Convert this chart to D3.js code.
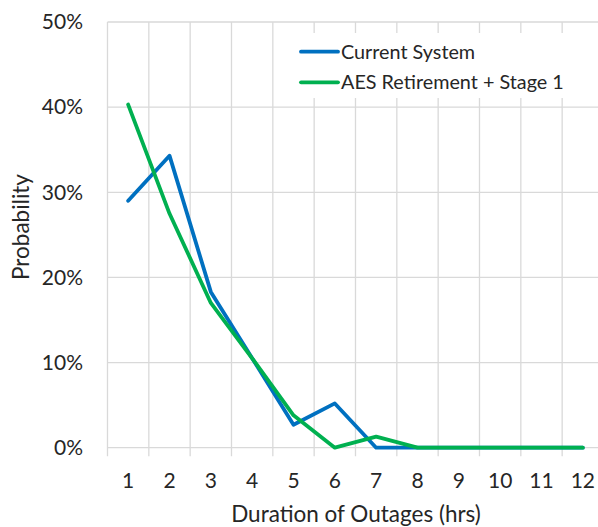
<!DOCTYPE html>
<html><head><meta charset="utf-8">
<script src="https://cdn.jsdelivr.net/npm/d3@7"></script>
<style>
html,body{margin:0;padding:0;background:#fff;}
text{font-family:Lato, "Liberation Sans", sans-serif;fill:#262626;}
</style></head>
<body><svg id="c" width="598" height="527"></svg>
<script>
const categories = [1,2,3,4,5,6,7,8,9,10,11,12];
const currentSystem = [0.290,0.343,0.183,0.105,0.027,0.052,0,0,0,0,0,0];
const aesRetirement = [0.403,0.275,0.170,0.105,0.038,0,0.013,0,0,0,0,0];
const yTicks = [0,0.1,0.2,0.3,0.4,0.5];
const seriesNames = ["Current System","AES Retirement + Stage 1"];
const seriesColors = ["#0070C0","#00B050"];

const svg = d3.select("#c");
const pLeft = 107.5, pTop = 22, pBottom = 447.7, pRight = 603.5;
const x = d3.scaleBand().domain(categories).range([pLeft, pRight]).padding(0);
const y = d3.scaleLinear().domain([0,0.5]).range([pBottom, pTop]);
const grid = "#D9D9D9";

// horizontal gridlines
svg.append("g").selectAll("line").data(yTicks).join("line")
  .attr("x1", pLeft).attr("x2", pRight)
  .attr("y1", d => y(d)).attr("y2", d => y(d))
  .attr("stroke", grid).attr("stroke-width", 1.3);
// vertical gridlines (band edges) with tick extension
const edges = categories.map(c => x(c)).concat([x(categories[categories.length-1]) + x.bandwidth()]);
svg.append("g").selectAll("line").data(edges).join("line")
  .attr("x1", d => d).attr("x2", d => d)
  .attr("y1", pTop).attr("y2", pBottom + 8.5)
  .attr("stroke", grid).attr("stroke-width", 1.3);

// y tick labels
svg.append("g").selectAll("text").data(yTicks).join("text")
  .attr("x", 83).attr("y", d => y(d)).attr("dy", "0.35em")
  .attr("text-anchor", "end").attr("font-size", 21)
  .text(d => d3.format(".0%")(d));
// x tick labels
svg.append("g").selectAll("text").data(categories).join("text")
  .attr("x", d => x(d) + x.bandwidth()/2).attr("y", 481).attr("dy", "0.35em")
  .attr("text-anchor", "middle").attr("font-size", 21)
  .text(d => d);

// axis titles
svg.append("text").attr("x", 356).attr("y", 521.5).attr("text-anchor", "middle")
  .attr("font-size", 22.5).text("Duration of Outages (hrs)");
svg.append("text").attr("transform", "translate(28.5,227) rotate(-90)")
  .attr("text-anchor", "middle").attr("font-size", 22.5).text("Probability");

// legend background
svg.append("rect").attr("x", 285).attr("y", 33).attr("width", 320).attr("height", 65).attr("fill", "#fff");

// lines
const line = d3.line().x((d,i) => x(categories[i]) + x.bandwidth()/2).y(d => y(d));
[currentSystem, aesRetirement].forEach((s, k) => {
  svg.append("path").datum(s).attr("d", line)
    .attr("fill", "none").attr("stroke", seriesColors[k])
    .attr("stroke-width", 3.8).attr("stroke-linejoin", "round").attr("stroke-linecap", "round");
});

// legend
const lg = svg.append("g");
seriesNames.forEach((n, k) => {
  const ly = 51.7 + k * 30.6;
  lg.append("line").attr("x1", 301).attr("x2", 338).attr("y1", ly).attr("y2", ly)
    .attr("stroke", seriesColors[k]).attr("stroke-width", 3.8).attr("stroke-linecap", "round");
  lg.append("text").attr("x", 341).attr("y", ly).attr("dy", "0.35em")
    .attr("font-size", 19.8).text(n);
});
</script></body></html>
